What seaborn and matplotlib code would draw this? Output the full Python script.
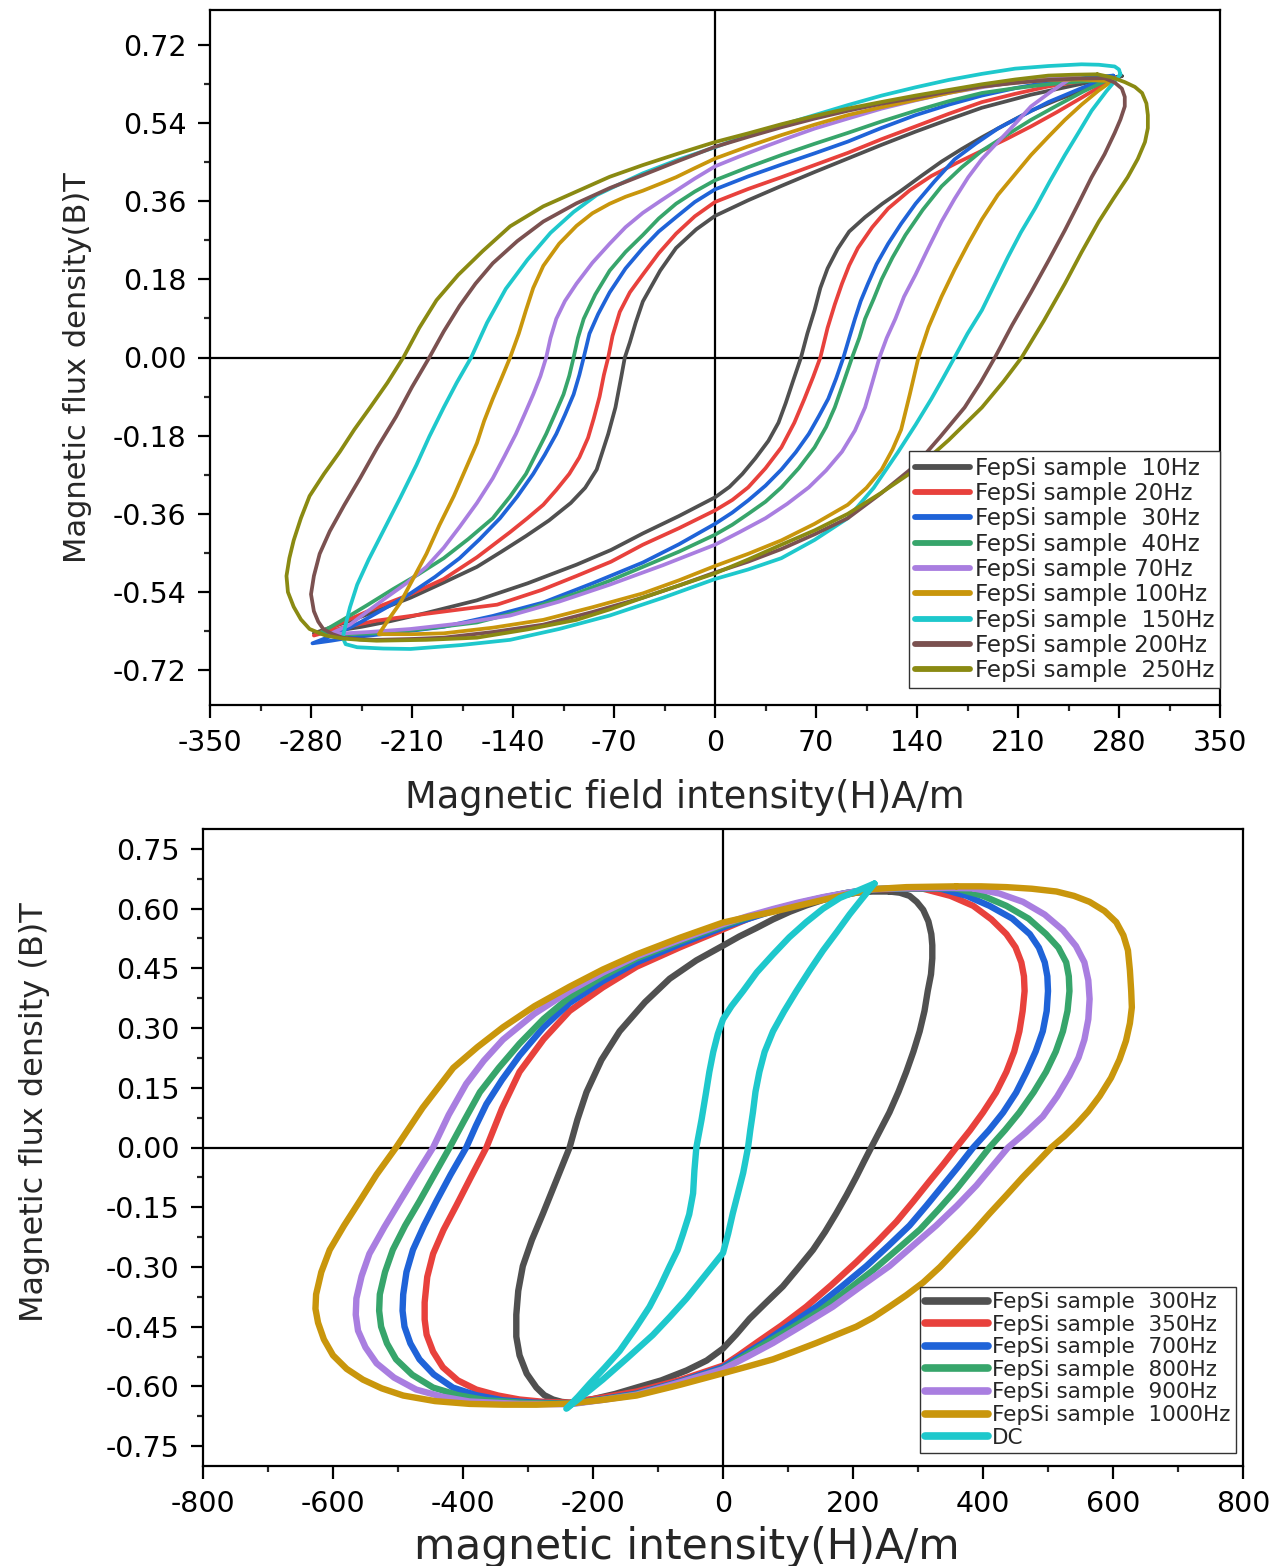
import numpy as np
import pandas as pd
import matplotlib
matplotlib.use("Agg")
import matplotlib.pyplot as plt
from matplotlib.lines import Line2D
from matplotlib.ticker import MultipleLocator, FuncFormatter
import seaborn as sns

# Each loop is a list of (H [A/m], B [T]) points, traced from the positive tip
# along the descending branch to the negative tip and back up the ascending branch.

# ---------------- upper panel: FepSi sample, 10 Hz - 250 Hz ----------------
LOOP_10HZ = [(282, 0.648), (268, 0.640), (254, 0.630), (237, 0.618), (219, 0.605), (202, 0.590), (185, 0.575),
             (162, 0.548), (139, 0.520), (115, 0.489), (92, 0.458), (69, 0.427), (46, 0.395), (23, 0.362), (0, 0.326),
             (-13, 0.295), (-27, 0.252), (-38, 0.200), (-50, 0.129), (-55, 0.080), (-59, 0.035), (-62.5, 0.0),
             (-65, -0.045), (-69, -0.115), (-74, -0.176), (-82, -0.258), (-90, -0.300), (-100, -0.335), (-115, -0.375),
             (-131, -0.411), (-148, -0.447), (-165, -0.482), (-188, -0.518), (-211, -0.553), (-232, -0.580),
             (-251, -0.604), (-266, -0.621), (-278, -0.635),
             (-262, -0.629), (-245, -0.620), (-225, -0.607), (-200, -0.588), (-165, -0.559), (-130, -0.520),
             (-96, -0.477), (-72, -0.443), (-50, -0.405), (-25, -0.365), (0, -0.322), (10, -0.298), (19, -0.268),
             (28, -0.232), (37, -0.192), (44, -0.150), (49, -0.105), (54, -0.055), (59.6, 0.0), (64, 0.055),
             (69, 0.109), (73, 0.160), (78, 0.205), (85, 0.250), (93, 0.290), (104, 0.323), (116, 0.354), (129, 0.384),
             (143, 0.418), (157, 0.451), (171, 0.480), (185, 0.507), (202, 0.538), (219, 0.568), (237, 0.593),
             (254, 0.614), (268, 0.632), (282, 0.648)]

LOOP_20HZ = [(277, 0.644), (254, 0.636), (231, 0.624), (208, 0.607), (185, 0.588), (162, 0.561), (139, 0.532),
             (115, 0.502), (92, 0.471), (69, 0.443), (46, 0.415), (23, 0.388), (0, 0.358), (-14, 0.325), (-27, 0.285),
             (-39, 0.240), (-50, 0.191), (-59, 0.150), (-66, 0.105), (-71, 0.050), (-74, 0.0), (-77, -0.040),
             (-80, -0.090), (-84, -0.140), (-88, -0.185), (-94, -0.230), (-101, -0.268), (-110, -0.305),
             (-119, -0.339), (-130, -0.370), (-142, -0.402), (-165, -0.460), (-188, -0.510), (-211, -0.545),
             (-235, -0.576), (-257, -0.608), (-278, -0.640),
             (-258, -0.622), (-235, -0.606), (-200, -0.590), (-151, -0.569), (-120, -0.535), (-96, -0.503),
             (-72, -0.470), (-50, -0.431), (-25, -0.393), (0, -0.352), (12, -0.328), (23, -0.299), (35, -0.255),
             (46, -0.207), (55, -0.150), (62, -0.095), (68, -0.045), (73, 0.0), (78, 0.068), (83, 0.122), (88, 0.170),
             (93, 0.212), (99, 0.252), (109, 0.300), (120, 0.343), (135, 0.385), (150, 0.418), (167, 0.447),
             (185, 0.476), (202, 0.503), (219, 0.532), (237, 0.565), (254, 0.598), (266, 0.622), (277, 0.644)]

LOOP_30HZ = [(276, 0.649), (254, 0.643), (231, 0.634), (208, 0.620), (185, 0.603), (162, 0.582), (139, 0.558),
             (115, 0.528), (92, 0.497), (69, 0.470), (46, 0.444), (23, 0.417), (0, 0.387), (-14, 0.358), (-27, 0.323),
             (-39, 0.290), (-50, 0.252), (-62, 0.205), (-73, 0.150), (-81, 0.100), (-87, 0.055), (-91, 0.0),
             (-94, -0.040), (-98, -0.085), (-104, -0.132), (-110, -0.176), (-118, -0.224), (-126, -0.268),
             (-137, -0.320), (-149, -0.370), (-163, -0.418), (-177, -0.462), (-194, -0.505), (-211, -0.543),
             (-229, -0.578), (-246, -0.610), (-262, -0.636), (-279, -0.658),
             (-266, -0.652), (-253, -0.645), (-220, -0.633), (-188, -0.620), (-154, -0.595), (-119, -0.564),
             (-85, -0.520), (-50, -0.472), (-25, -0.430), (0, -0.383), (12, -0.357), (23, -0.329), (35, -0.295),
             (46, -0.258), (56, -0.218), (65, -0.176), (72, -0.135), (78.5, -0.095), (84, -0.048), (89, 0.0),
             (93, 0.045), (97, 0.089), (101, 0.130), (106, 0.170), (112, 0.215), (120, 0.262), (129, 0.308),
             (139, 0.354), (152, 0.405), (166, 0.456), (181, 0.493), (196, 0.527), (213, 0.557), (231, 0.588),
             (254, 0.620), (276, 0.649)]

LOOP_40HZ = [(272, 0.639), (252, 0.635), (231, 0.629), (208, 0.620), (185, 0.609), (162, 0.590), (139, 0.568),
             (115, 0.543), (92, 0.517), (69, 0.492), (46, 0.466), (23, 0.438), (0, 0.408), (-14, 0.382), (-27, 0.354),
             (-39, 0.320), (-50, 0.282), (-62, 0.243), (-73, 0.200), (-83, 0.145), (-91, 0.089), (-95, 0.045),
             (-98, 0.0), (-101, -0.042), (-105, -0.085), (-111, -0.131), (-117, -0.176), (-124, -0.222),
             (-131, -0.268), (-142, -0.320), (-154, -0.370), (-171, -0.418), (-188, -0.462), (-206, -0.500),
             (-223, -0.533), (-241, -0.570), (-258, -0.604), (-274, -0.635),
             (-255, -0.637), (-235, -0.635), (-200, -0.624), (-165, -0.610), (-130, -0.580), (-96, -0.543),
             (-73, -0.514), (-50, -0.482), (-25, -0.447), (0, -0.408), (12, -0.385), (23, -0.360), (35, -0.332),
             (46, -0.299), (58, -0.255), (69, -0.207), (77, -0.160), (83, -0.115), (89, -0.058), (95, 0.0),
             (100, 0.045), (104, 0.089), (110, 0.135), (115.5, 0.180), (123, 0.230), (132, 0.282), (144, 0.340),
             (157, 0.394), (171, 0.438), (185, 0.476), (202, 0.512), (219, 0.547), (237, 0.580), (255, 0.612),
             (272, 0.639)]

LOOP_70HZ = [(252, 0.647), (230, 0.642), (208, 0.634), (185, 0.622), (162, 0.609), (139, 0.592), (115.5, 0.573),
             (92, 0.550), (69, 0.527), (52, 0.507), (35, 0.486), (17, 0.463), (0, 0.440), (-14, 0.412), (-27, 0.384),
             (-38, 0.360), (-50, 0.333), (-62, 0.300), (-73, 0.262), (-85, 0.218), (-96, 0.170), (-104, 0.130),
             (-110, 0.089), (-114, 0.045), (-117, 0.0), (-121, -0.043), (-126, -0.085), (-132, -0.131),
             (-138, -0.176), (-146, -0.228), (-154, -0.278), (-165, -0.335), (-177, -0.390), (-188, -0.438),
             (-200, -0.482), (-214, -0.520), (-228, -0.553), (-241, -0.585), (-253, -0.615), (-267, -0.637),
             (-240, -0.632), (-211, -0.625), (-176, -0.612), (-142, -0.594), (-108, -0.562), (-73, -0.523),
             (-36, -0.478), (0, -0.431), (17, -0.402), (35, -0.370), (50, -0.337), (65, -0.299), (77, -0.260),
             (88, -0.217), (97, -0.168), (104, -0.115), (109, -0.058), (114, 0.0), (119, 0.045), (125, 0.089),
             (131, 0.140), (139, 0.191), (148, 0.253), (157, 0.313), (166, 0.365), (175.5, 0.415), (185, 0.457),
             (196, 0.496), (208, 0.538), (219, 0.578), (232, 0.610), (245, 0.639), (252, 0.647)]

LOOP_100HZ = [(275, 0.636), (254, 0.640), (231, 0.639), (208, 0.633), (185, 0.624), (162, 0.609), (139, 0.593),
              (115, 0.576), (92, 0.558), (69, 0.536), (46, 0.512), (23, 0.486), (0, 0.458), (-14, 0.436),
              (-27, 0.415), (-38, 0.400), (-50, 0.384), (-62, 0.370), (-73, 0.354), (-85, 0.332), (-96, 0.303),
              (-108, 0.262), (-119, 0.211), (-126, 0.160), (-131, 0.109), (-136, 0.055), (-142, 0.0),
              (-148, -0.048), (-154, -0.095), (-160, -0.146), (-165, -0.197), (-173, -0.258), (-181, -0.319),
              (-191, -0.386), (-200, -0.452), (-209, -0.508), (-218, -0.564), (-226, -0.602), (-233, -0.637),
              (-210, -0.637), (-188, -0.635), (-154, -0.622), (-119, -0.604), (-85, -0.575), (-50, -0.543),
              (-25, -0.513), (0, -0.480), (23, -0.452), (46, -0.421), (69, -0.383), (92, -0.339), (105, -0.300),
              (115.5, -0.258), (123, -0.212), (129, -0.166), (135, -0.085), (141, 0.0), (148, 0.070), (157, 0.140),
              (166, 0.202), (175.5, 0.262), (185, 0.318), (196, 0.374), (208, 0.422), (219, 0.466), (231, 0.508),
              (242.5, 0.547), (254, 0.582), (265.6, 0.614), (275, 0.636)]

LOOP_150HZ = [(281, 0.652), (280, 0.663), (277, 0.670), (266, 0.674), (254, 0.675), (231, 0.671), (208, 0.665),
              (185, 0.653), (162, 0.639), (139, 0.622), (115.5, 0.603), (92, 0.581), (69, 0.558), (46, 0.535),
              (23, 0.512), (0, 0.484), (-25, 0.456), (-50, 0.424), (-70, 0.393), (-82, 0.374), (-98, 0.335),
              (-114, 0.287), (-130, 0.225), (-145, 0.158), (-158, 0.080), (-169, 0.0), (-179, -0.058),
              (-188, -0.115), (-198, -0.182), (-207, -0.248), (-218, -0.322), (-230, -0.400), (-240, -0.465),
              (-248, -0.523), (-253, -0.575), (-256, -0.615), (-258, -0.645),
              (-256, -0.660), (-248, -0.667), (-230, -0.670), (-211, -0.671), (-176, -0.662), (-142, -0.650),
              (-108, -0.625), (-73, -0.594), (-36, -0.553), (0, -0.510), (23, -0.488), (46, -0.462), (69, -0.420),
              (92, -0.370), (110, -0.300), (127, -0.217), (139, -0.155), (150, -0.095), (158, -0.048), (166, 0.0),
              (175, 0.055), (185, 0.109), (194, 0.170), (203, 0.231), (212, 0.288), (222, 0.344), (232, 0.405),
              (242.5, 0.466), (252, 0.518), (261, 0.568), (271, 0.612), (281, 0.652)]

LOOP_200HZ = [(270, 0.643), (252, 0.642), (231, 0.639), (208, 0.632), (185, 0.624), (162, 0.612), (139, 0.598),
              (115, 0.584), (92, 0.568), (69, 0.550), (46, 0.530), (23, 0.508), (0, 0.485), (-25, 0.453),
              (-50, 0.420), (-73, 0.390), (-96, 0.355), (-119, 0.313), (-137, 0.268), (-154, 0.217), (-166, 0.170),
              (-177, 0.119), (-188, 0.060), (-198, 0.0), (-210, -0.068), (-221, -0.136), (-234, -0.207),
              (-246, -0.278), (-257, -0.340), (-267, -0.400), (-274, -0.452), (-278, -0.503), (-280, -0.545),
              (-278, -0.584), (-275, -0.608), (-271.5, -0.625), (-265, -0.637), (-258, -0.645), (-246, -0.649),
              (-234.5, -0.650),
              (-210, -0.648), (-188, -0.645), (-154, -0.632), (-119, -0.615), (-85, -0.586), (-50, -0.553),
              (-25, -0.525), (0, -0.495), (23, -0.470), (46, -0.441), (69, -0.407), (92, -0.370), (115, -0.313),
              (139, -0.248), (156, -0.183), (173, -0.115), (184, -0.058), (194, 0.0), (206, 0.075), (219, 0.150),
              (231, 0.222), (242.5, 0.293), (252, 0.355), (261, 0.415), (270, 0.468), (277, 0.517), (281, 0.548),
              (284, 0.578), (284, 0.600), (282, 0.619), (277, 0.633), (270, 0.643)]

LOOP_250HZ = [(265, 0.652), (248, 0.651), (231, 0.649), (208, 0.640), (185, 0.629), (162, 0.616), (139, 0.603),
              (115, 0.588), (92, 0.573), (69, 0.556), (46, 0.537), (23, 0.516), (0, 0.496), (-25, 0.470),
              (-50, 0.443), (-73, 0.416), (-96, 0.382), (-119, 0.348), (-142, 0.302), (-161, 0.245), (-178, 0.190),
              (-193, 0.132), (-205, 0.068), (-216, 0.0), (-227, -0.058), (-239, -0.115), (-250, -0.166),
              (-260, -0.217), (-271, -0.268), (-281, -0.319), (-287, -0.370), (-292, -0.421), (-295, -0.462),
              (-297, -0.503), (-296, -0.540), (-292, -0.574), (-287, -0.603), (-281, -0.625), (-270, -0.640),
              (-258, -0.647), (-246, -0.650), (-234.5, -0.652),
              (-200, -0.650), (-165, -0.645), (-130, -0.626), (-96, -0.604), (-73, -0.580), (-50, -0.553),
              (-25, -0.525), (0, -0.497), (23, -0.465), (46, -0.431), (69, -0.398), (92, -0.360), (115, -0.312),
              (139, -0.258), (162, -0.190), (185, -0.115), (200, -0.055), (212.5, 0.0), (228, 0.085), (242.5, 0.170),
              (254, 0.242), (266, 0.313), (276, 0.365), (286, 0.415), (293, 0.457), (298, 0.496), (300, 0.528),
              (300, 0.558), (299, 0.585), (296, 0.609), (291, 0.623), (284, 0.634), (275, 0.645), (265, 0.652)]

TOP_LABELS = ["FepSi sample  10Hz", "FepSi sample 20Hz", "FepSi sample  30Hz",
              "FepSi sample  40Hz", "FepSi sample 70Hz", "FepSi sample 100Hz",
              "FepSi sample  150Hz", "FepSi sample 200Hz", "FepSi sample  250Hz"]
TOP_COLORS = ["#505050", "#e8413c", "#1f63d8", "#37a56b", "#a97ee0",
              "#c9960c", "#1ec8cc", "#7b5150", "#8a8a12"]
TOP_LOOPS = [LOOP_10HZ, LOOP_20HZ, LOOP_30HZ, LOOP_40HZ, LOOP_70HZ,
             LOOP_100HZ, LOOP_150HZ, LOOP_200HZ, LOOP_250HZ]

# ---------------- lower panel: 300 Hz - 1000 Hz and DC ----------------
LOOP_300HZ = [(256, 0.643), (230, 0.643), (205, 0.640), (180, 0.632), (154, 0.622), (128, 0.608), (102.6, 0.592),
              (77, 0.573), (51, 0.551), (25, 0.530), (0, 0.507), (-41, 0.470), (-82, 0.424), (-120, 0.365),
              (-159, 0.292), (-187, 0.220), (-210, 0.139), (-224, 0.070), (-236, 0.0), (-257, -0.085),
              (-277, -0.166), (-294, -0.232), (-308, -0.298), (-315, -0.360), (-318, -0.420), (-318, -0.475),
              (-313, -0.522), (-302, -0.568), (-287, -0.603), (-275, -0.622), (-261.5, -0.633), (-248, -0.639),
              (-236, -0.641),
              (-200, -0.632), (-166, -0.619), (-133, -0.603), (-95, -0.585), (-56, -0.560), (-25, -0.535),
              (0, -0.505), (20, -0.470), (41, -0.430), (66, -0.390), (92, -0.349), (115, -0.304), (138.5, -0.257),
              (157, -0.212), (174, -0.166), (190, -0.120), (205, -0.074), (217, -0.035), (228, 0.0), (242, 0.044),
              (256, 0.088), (270, 0.140), (282, 0.190), (293, 0.241), (302.6, 0.292), (310, 0.343), (315, 0.393),
              (320, 0.435), (322, 0.475), (322, 0.508), (320.5, 0.536), (316, 0.568), (308, 0.597), (298, 0.617),
              (287, 0.632), (272, 0.640), (256, 0.643)]

LOOP_350HZ = [(308, 0.650), (270, 0.650), (231, 0.648), (192, 0.639), (154, 0.627), (115, 0.613), (77, 0.597),
              (38, 0.574), (0, 0.548), (-66, 0.503), (-133, 0.454), (-185, 0.402), (-236, 0.343), (-276, 0.272),
              (-313, 0.190), (-340, 0.098), (-364, 0.0), (-388, -0.075), (-410, -0.145), (-430, -0.207),
              (-446, -0.267), (-455, -0.325), (-459, -0.389), (-459, -0.432), (-456, -0.470), (-446, -0.513),
              (-431, -0.552), (-408, -0.585), (-379.5, -0.608), (-346, -0.623), (-313, -0.633), (-275, -0.639),
              (-236, -0.641),
              (-185, -0.628), (-133, -0.613), (-66, -0.584), (0, -0.548), (25, -0.521), (51, -0.491), (90, -0.447),
              (128, -0.400), (167, -0.345), (205, -0.288), (237, -0.237), (267, -0.186), (293, -0.135),
              (318, -0.084), (339, -0.042), (359, 0.0), (380, 0.043), (400, 0.088), (420, 0.138), (436, 0.190),
              (448, 0.241), (456, 0.292), (461, 0.343), (464, 0.393), (463, 0.430), (459, 0.465), (450, 0.503),
              (436, 0.536), (413, 0.573), (385, 0.607), (350, 0.632), (308, 0.650)]

LOOP_700HZ = [(333, 0.651), (282, 0.651), (231, 0.649), (192, 0.640), (154, 0.627), (115, 0.612), (77, 0.594),
              (38, 0.574), (0, 0.553), (-66, 0.511), (-133, 0.465), (-185, 0.418), (-236, 0.363), (-276, 0.302),
              (-313, 0.231), (-340, 0.170), (-364, 0.109), (-380, 0.055), (-395, 0.0), (-419, -0.068),
              (-441, -0.135), (-460, -0.196), (-477, -0.257), (-487, -0.313), (-492, -0.369), (-493, -0.410),
              (-490, -0.450), (-481, -0.492), (-467, -0.532), (-445, -0.570), (-415.6, -0.603), (-380, -0.622),
              (-338.5, -0.635), (-290, -0.641), (-236, -0.643),
              (-185, -0.632), (-133, -0.618), (-66, -0.588), (0, -0.552), (30, -0.522), (61.5, -0.491),
              (102, -0.446), (143.6, -0.400), (182, -0.350), (220.5, -0.298), (255, -0.246), (287, -0.196),
              (313, -0.146), (338.5, -0.095), (362, -0.048), (385, 0.0), (409, 0.043), (431, 0.088), (451, 0.138),
              (467, 0.190), (481, 0.241), (492, 0.292), (498, 0.343), (500, 0.393), (499, 0.430), (495, 0.465),
              (486, 0.502), (472, 0.536), (445, 0.575), (410, 0.607), (375, 0.632), (333, 0.651)]

LOOP_800HZ = [(359, 0.651), (295, 0.651), (231, 0.649), (192, 0.640), (154, 0.628), (115, 0.613), (77, 0.597),
              (38, 0.578), (0, 0.558), (-66, 0.518), (-133, 0.475), (-185, 0.430), (-236, 0.378), (-276, 0.323),
              (-313, 0.261), (-345, 0.200), (-374, 0.139), (-398, 0.068), (-420.5, 0.0), (-444, -0.068),
              (-467, -0.135), (-489, -0.196), (-508, -0.257), (-520, -0.313), (-528, -0.369), (-529, -0.410),
              (-526, -0.450), (-517, -0.492), (-503, -0.532), (-478, -0.571), (-446, -0.603), (-408, -0.622),
              (-364, -0.635), (-300, -0.642), (-236, -0.644),
              (-185, -0.633), (-133, -0.620), (-66, -0.590), (0, -0.556), (30, -0.527), (61.5, -0.496),
              (105, -0.454), (149, -0.410), (190, -0.360), (231, -0.308), (268, -0.256), (303, -0.206),
              (332, -0.155), (359, -0.105), (385, -0.052), (410, 0.0), (434, 0.044), (456, 0.088), (478, 0.139),
              (497, 0.190), (512, 0.241), (523, 0.292), (530, 0.343), (533, 0.393), (532, 0.430), (528, 0.465),
              (516, 0.502), (497, 0.536), (470, 0.575), (436, 0.607), (400, 0.632), (359, 0.651)]

LOOP_900HZ = [(385, 0.651), (346, 0.652), (308, 0.652), (270, 0.651), (231, 0.649), (192, 0.640), (154, 0.629),
              (115, 0.615), (77, 0.599), (38, 0.581), (0, 0.561), (-66, 0.522), (-133, 0.480), (-185, 0.439),
              (-236, 0.393), (-290, 0.336), (-338.5, 0.271), (-368, 0.218), (-395, 0.160), (-422, 0.082),
              (-446, 0.0), (-472, -0.068), (-497, -0.135), (-521, -0.200), (-544, -0.267), (-556, -0.323),
              (-564, -0.379), (-565, -0.420), (-561.5, -0.460), (-550, -0.502), (-533, -0.542), (-506, -0.578),
              (-472, -0.608), (-432, -0.626), (-390, -0.638), (-313, -0.644), (-236, -0.645),
              (-185, -0.634), (-133, -0.621), (-66, -0.590), (0, -0.557), (38, -0.525), (77, -0.491), (123, -0.446),
              (169, -0.400), (212, -0.349), (256, -0.298), (292, -0.247), (328, -0.196), (360, -0.146),
              (390, -0.095), (414, -0.048), (438.5, 0.0), (466, 0.038), (492, 0.078), (514, 0.128), (533, 0.180),
              (547, 0.226), (556, 0.271), (562, 0.322), (564, 0.373), (562, 0.420), (556, 0.465), (543, 0.506),
              (523, 0.546), (495, 0.585), (461.5, 0.617), (425, 0.638), (385, 0.651)]

LOOP_1000HZ = [(359, 0.656), (320, 0.655), (282, 0.654), (231, 0.649), (192, 0.636), (154, 0.622), (115, 0.607),
               (77, 0.592), (38, 0.579), (0, 0.565), (-66, 0.527), (-133, 0.485), (-185, 0.447), (-236, 0.404),
               (-290, 0.355), (-338.5, 0.302), (-378, 0.252), (-415, 0.200), (-462, 0.100), (-503, 0.0),
               (-533, -0.068), (-559, -0.135), (-583, -0.196), (-605, -0.257), (-618, -0.313), (-626, -0.369),
               (-627, -0.405), (-623, -0.440), (-614, -0.482), (-600, -0.522), (-579, -0.556), (-554, -0.583),
               (-525, -0.605), (-492, -0.623), (-443, -0.637), (-390, -0.644), (-338, -0.646), (-287, -0.646),
               (-236, -0.643),
               (-185, -0.634), (-133, -0.623), (-66, -0.596), (0, -0.567), (38, -0.550), (77, -0.532),
               (110, -0.512), (143.6, -0.491), (175, -0.470), (205, -0.450), (231, -0.427), (256, -0.400),
               (282, -0.371), (308, -0.339), (334, -0.300), (359, -0.257), (385, -0.212), (410, -0.166),
               (436, -0.120), (461.5, -0.074), (484, -0.036), (505, 0.0), (525, 0.028), (543.6, 0.058),
               (562, 0.091), (579.5, 0.129), (597, 0.175), (610, 0.221), (620, 0.268), (626, 0.312), (629, 0.352),
               (628, 0.393), (626, 0.445), (623, 0.495), (616, 0.533), (605, 0.566), (587, 0.594), (564, 0.617),
               (540, 0.632), (513, 0.643), (475, 0.650), (436, 0.654), (397, 0.656), (359, 0.656)]

LOOP_DC = [(233, 0.663), (207, 0.645), (180, 0.627), (154, 0.600), (128, 0.566), (102, 0.528), (77, 0.485),
           (52, 0.440), (31, 0.393), (13, 0.355), (0, 0.322), (-8, 0.285), (-15, 0.240), (-21, 0.190),
           (-26, 0.139), (-33, 0.070), (-41, 0.0), (-44, -0.058), (-46, -0.115), (-52, -0.168), (-61.5, -0.217),
           (-70, -0.258), (-82, -0.298), (-97, -0.350), (-113, -0.400), (-135, -0.455), (-159, -0.511),
           (-182, -0.553), (-205, -0.593), (-223, -0.626), (-241, -0.656),
           (-213, -0.620), (-185, -0.583), (-146, -0.527), (-108, -0.471), (-82, -0.426), (-56, -0.379),
           (-28, -0.322), (0, -0.265), (8, -0.216), (15, -0.166), (23, -0.115), (31, -0.064), (35, -0.030),
           (38.5, 0.0), (42, 0.044), (46, 0.088), (50, 0.140), (56, 0.190), (64, 0.240), (77, 0.292), (94, 0.342),
           (113, 0.393), (133, 0.444), (154, 0.495), (175, 0.541), (195, 0.586), (214, 0.625), (233, 0.663)]

BOT_LABELS = ["FepSi sample  300Hz", "FepSi sample  350Hz", "FepSi sample  700Hz",
              "FepSi sample  800Hz", "FepSi sample  900Hz", "FepSi sample  1000Hz", "DC"]
BOT_COLORS = ["#505050", "#e8413c", "#1f63d8", "#37a56b", "#a97ee0", "#c9960c", "#1ec8cc"]
BOT_LOOPS = [LOOP_300HZ, LOOP_350HZ, LOOP_700HZ, LOOP_800HZ, LOOP_900HZ, LOOP_1000HZ, LOOP_DC]


def long_frame(labels, loops):
    parts = []
    for lab, pts in zip(labels, loops):
        arr = np.asarray(pts, dtype=float)
        parts.append(pd.DataFrame({"H": arr[:, 0], "B": arr[:, 1], "series": lab}))
    return pd.concat(parts, ignore_index=True)


def fmt2(v, _pos):
    return f"{round(v, 2) + 0.0:.2f}"


sns.set_style("ticks")
plt.rcParams["font.family"] = ["DejaVu Sans"]
plt.rcParams["axes.unicode_minus"] = False

fig = plt.figure(figsize=(12.88, 15.66), dpi=100)
W, HF = 1288.0, 1566.0
ax1 = fig.add_axes([210 / W, 1 - 705 / HF, 1010 / W, 695 / HF])
ax2 = fig.add_axes([203 / W, 1 - 1466 / HF, 1040 / W, 637 / HF])


def style_axis(ax):
    for s in ax.spines.values():
        s.set_visible(True)
        s.set_linewidth(1.6)
        s.set_color("black")
    ax.axhline(0, color="black", lw=1.6, zorder=1)
    ax.axvline(0, color="black", lw=1.6, zorder=1)
    ax.tick_params(axis="both", which="major", direction="out", length=9, width=1.6,
                   labelsize=20.5, pad=8, colors="black", bottom=True, left=True, top=False, right=False)
    ax.tick_params(axis="both", which="minor", direction="out", length=4.5, width=1.6,
                   bottom=True, left=True, top=False, right=False)
    ax.yaxis.set_major_formatter(FuncFormatter(fmt2))


# upper panel
top_df = long_frame(TOP_LABELS, TOP_LOOPS)
sns.lineplot(data=top_df, x="H", y="B", hue="series", hue_order=TOP_LABELS,
             palette=dict(zip(TOP_LABELS, TOP_COLORS)), sort=False, estimator=None,
             linewidth=2.7, legend=False, ax=ax1, zorder=2, solid_joinstyle="round")
style_axis(ax1)
ax1.set_xlim(-350, 350)
ax1.set_ylim(-0.8, 0.8)
ax1.set_xticks(np.arange(-350, 351, 70))
ax1.xaxis.set_minor_locator(MultipleLocator(35))
ax1.set_yticks(np.round(np.arange(-0.72, 0.721, 0.18), 2))
ax1.yaxis.set_minor_locator(MultipleLocator(0.09))
ax1.set_xlabel("Magnetic field intensity(H)A/m", fontsize=26.5)
ax1.set_ylabel("Magnetic flux density(B)T", fontsize=22)
ax1.xaxis.set_label_coords(0.470, -0.107)
ax1.yaxis.set_label_coords(-0.117, 0.486)

top_handles = [Line2D([0], [0], color=c, lw=4.2, solid_capstyle="round") for c in TOP_COLORS]
leg1 = ax1.legend(top_handles, TOP_LABELS, loc="lower right", bbox_to_anchor=(1.0, 0.0245),
                  borderaxespad=0, fontsize=16.5, handlelength=2.4, handletextpad=0.2,
                  labelspacing=0.1, borderpad=0.25, frameon=True, fancybox=False,
                  edgecolor="#333333", framealpha=1)
leg1.get_frame().set_linewidth(1.0)

# lower panel
bot_df = long_frame(BOT_LABELS, BOT_LOOPS)
sns.lineplot(data=bot_df, x="H", y="B", hue="series", hue_order=BOT_LABELS,
             palette=dict(zip(BOT_LABELS, BOT_COLORS)), sort=False, estimator=None,
             linewidth=4.6, legend=False, ax=ax2, zorder=2, solid_joinstyle="round")
style_axis(ax2)
ax2.set_xlim(-800, 800)
ax2.set_ylim(-0.8, 0.8)
ax2.set_xticks(np.arange(-800, 801, 200))
ax2.xaxis.set_minor_locator(MultipleLocator(100))
ax2.set_yticks(np.round(np.arange(-0.75, 0.751, 0.15), 2))
ax2.yaxis.set_minor_locator(MultipleLocator(0.075))
ax2.set_xlabel("magnetic intensity(H)A/m", fontsize=30.5)
ax2.set_ylabel("Magnetic flux density (B)T", fontsize=23)
ax2.xaxis.set_label_coords(0.465, -0.094)
ax2.yaxis.set_label_coords(-0.147, 0.556)

bot_handles = [Line2D([0], [0], color=c, lw=5.5, solid_capstyle="round") for c in BOT_COLORS]
leg2 = ax2.legend(bot_handles, BOT_LABELS, loc="lower right", bbox_to_anchor=(0.993, 0.0204),
                  borderaxespad=0, fontsize=15.5, handlelength=2.9, handletextpad=0.2,
                  labelspacing=0.12, borderpad=0.25, frameon=True, fancybox=False,
                  edgecolor="#333333", framealpha=1)
leg2.get_frame().set_linewidth(1.0)

fig.savefig("out.png", dpi=100)
